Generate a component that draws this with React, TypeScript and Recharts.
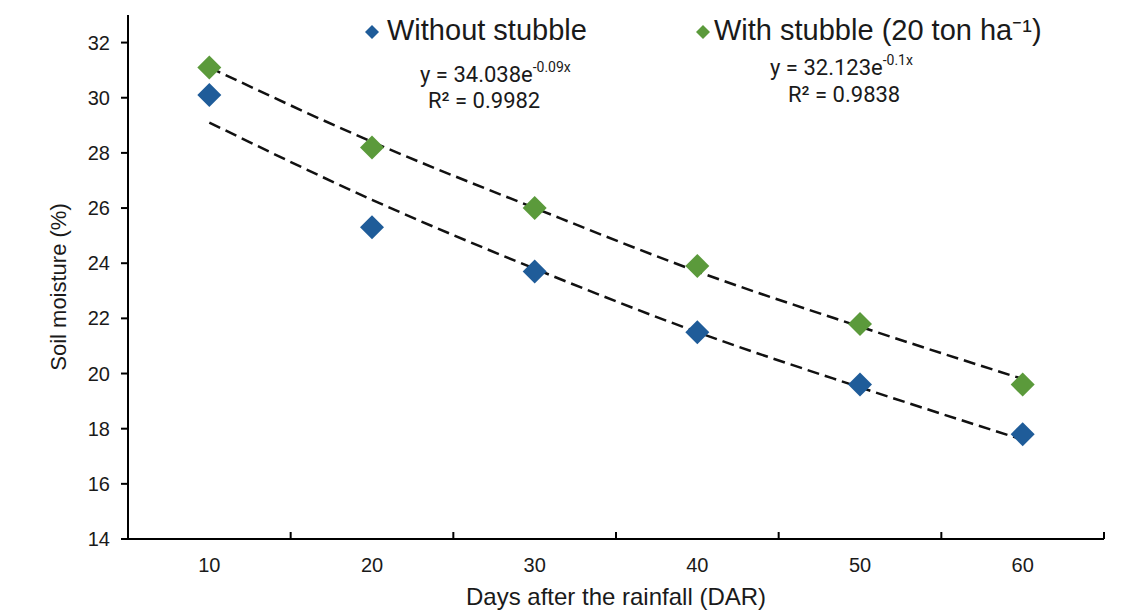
import React from 'react';
import { ComposedChart, Scatter, Line, XAxis, YAxis } from 'recharts';

const days = [10, 20, 30, 40, 50, 60];
const withoutStubble = [30.1, 25.3, 23.7, 21.5, 19.6, 17.8];
const withStubble = [31.1, 28.2, 26.0, 23.9, 21.8, 19.6];
// exponential trendlines at each day
const withoutTrend = [29.1, 26.3, 23.8, 21.5, 19.5, 17.6];
const withTrend = [31.1, 28.4, 26.0, 23.7, 21.7, 19.8];
const yTicks = [14, 16, 18, 20, 22, 24, 26, 28, 30, 32];
const xTicks = [5, 10, 15, 20, 25, 30, 35, 40, 45, 50, 55, 60, 65];

const BLUE = '#1f5c99';
const GREEN = '#5b9a3b';
const INK = '#1a1a1a';
const ARIAL = '"Liberation Sans", Arial, sans-serif';
const EQ_FONT = 'Roboto, "Open Sans", sans-serif';

const data = days.map((d, i) => ({
  day: d,
  without: withoutStubble[i],
  with: withStubble[i],
  withoutFit: withoutTrend[i],
  withFit: withTrend[i],
}));

const diamond = (color: string) => (props: any) => {
  const { cx, cy } = props;
  if (cx == null || cy == null) return <g />;
  return <path d={`M${cx},${cy - 12}L${cx + 12},${cy}L${cx},${cy + 12}L${cx - 12},${cy}Z`} fill={color} />;
};

// labels sit under the categories, the tick marks between them point up
const XTick = (props: any) => {
  const { x, y, payload } = props;
  const v = payload.value;
  if (v % 10 === 0) {
    return (
      <text x={x} y={y + 33} textAnchor="middle" fontSize={20} fill={INK} fontFamily={ARIAL}>
        {v}
      </text>
    );
  }
  return <line x1={x} x2={x} y1={y} y2={y - 7} stroke="#000" strokeWidth={2} />;
};

const LegendMark = ({ x, y, color }: { x: number; y: number; color: string }) => (
  <path d={`M${x},${y - 7}L${x + 7},${y}L${x},${y + 7}L${x - 7},${y}Z`} fill={color} />
);

export default function App() {
  return (
    <div style={{ position: 'fixed', left: 0, top: 0, width: 1138, height: 611, background: '#fff' }}>
      <ComposedChart width={1138} height={611} data={data} margin={{ top: 15, right: 34, bottom: 0, left: 48 }}>
        <XAxis
          dataKey="day"
          type="number"
          domain={[5, 65]}
          ticks={xTicks}
          interval={0}
          height={72}
          tickSize={0}
          tickMargin={0}
          tickLine={false}
          axisLine={{ stroke: '#000', strokeWidth: 2 }}
          tick={<XTick />}
        />
        <YAxis
          type="number"
          domain={[14, 33]}
          ticks={yTicks}
          interval={0}
          width={80}
          tickSize={7}
          tickMargin={11}
          axisLine={{ stroke: '#000', strokeWidth: 2 }}
          tickLine={{ stroke: '#000', strokeWidth: 2 }}
          tick={{ fontSize: 20, fill: INK, fontFamily: ARIAL }}
        />
        <Scatter dataKey="without" fill={BLUE} shape={diamond(BLUE)} isAnimationActive={false} />
        <Scatter dataKey="with" fill={GREEN} shape={diamond(GREEN)} isAnimationActive={false} />
        <Line dataKey="withoutFit" type="monotone" stroke="#111" strokeWidth={2.5} strokeDasharray="12 6" dot={false} activeDot={false} isAnimationActive={false} />
        <Line dataKey="withFit" type="monotone" stroke="#111" strokeWidth={2.5} strokeDasharray="12 6" dot={false} activeDot={false} isAnimationActive={false} />
      </ComposedChart>
      <svg width={1138} height={611} style={{ position: 'absolute', left: 0, top: 0, pointerEvents: 'none' }}>
        <LegendMark x={372} y={32} color={BLUE} />
        <text x={387} y={40} fontSize={29} fill={INK} fontFamily={ARIAL}>Without stubble</text>
        <LegendMark x={703} y={32} color={GREEN} />
        <text x={714} y={40} fontSize={29} fill={INK} fontFamily={ARIAL}>With stubble (20 ton ha⁻¹)</text>

        <text x={420} y={82} fontSize={22} fill={INK} fontFamily={EQ_FONT}>
          y = 34.038e<tspan fontSize={14} dy={-10}>-0.09x</tspan>
        </text>
        <text x={428} y={108} fontSize={22} fill={INK} fontFamily={EQ_FONT}>R² = 0.9982</text>
        <text x={770} y={75} fontSize={22} fill={INK} fontFamily={EQ_FONT}>
          y = 32.123e<tspan fontSize={14} dy={-10}>-0.1x</tspan>
        </text>
        <text x={788} y={102} fontSize={22} fill={INK} fontFamily={EQ_FONT}>R² = 0.9838</text>

        <text transform="translate(66,287) rotate(-90)" textAnchor="middle" fontSize={22} fill={INK} fontFamily={ARIAL}>
          Soil moisture (%)
        </text>
        <text x={616} y={605} textAnchor="middle" fontSize={24} fill={INK} fontFamily={ARIAL}>
          Days after the rainfall (DAR)
        </text>
      </svg>
    </div>
  );
}
